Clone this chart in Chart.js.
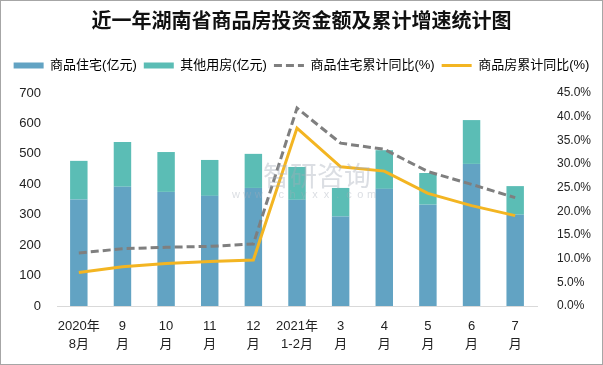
<!DOCTYPE html>
<html>
<head>
<meta charset="utf-8">
<script src="https://cdn.jsdelivr.net/npm/chart.js@4"></script>
<style>
  html, body { margin: 0; padding: 0; background: #fff; }
  #wrap { width: 603px; height: 365px; position: relative; }
</style>
</head>
<body>
<div id="wrap"><canvas id="grafico" width="603" height="365"></canvas></div>
<script>
// datos
const meses = [['2020年', '8月'], ['9', '月'], ['10', '月'], ['11', '月'], ['12', '月'],
  ['2021年', '1-2月'], ['3', '月'], ['4', '月'], ['5', '月'], ['6', '月'], ['7', '月']];
const comercialesVivienda = [350, 392, 375, 362, 388, 349, 294, 385, 333, 467, 300];
const otrosUsos = [127, 147, 131, 118, 112, 108, 94, 127, 104, 144, 94];
const acumViviendaPct = [11.2, 12.1, 12.4, 12.6, 13.1, 41.8, 34.4, 33.1, 28.4, 25.7, 22.9];
const acumTotalPct = [7.1, 8.3, 9.0, 9.4, 9.7, 37.6, 29.4, 28.5, 23.8, 21.2, 19.1];

const titulo = '近一年湖南省商品房投资金额及累计增速统计图';
const nombres = ['商品住宅(亿元)', '其他用房(亿元)', '商品住宅累计同比(%)', '商品房累计同比(%)'];

const AZUL = '#62a3c3';
const VERDE = '#5bbdb5';
const GRIS = '#7f7f7f';
const AMARILLO = '#f3b522';

Chart.defaults.font.family = "'Liberation Sans', 'Noto Sans CJK SC', sans-serif";
Chart.defaults.color = '#222';

// marca de agua y borde
const extras = {
  id: 'extras',
  afterDatasetsDraw(chart) {
    const ctx = chart.ctx;
    ctx.save();
    ctx.fillStyle = 'rgba(165,172,185,0.4)';
    ctx.font = "27px 'Noto Sans CJK SC'";
    ctx.textBaseline = 'middle';
    ctx.fillText('智研咨询', 263, 176);
    ctx.font = "11px 'Liberation Sans'";
    ctx.textAlign = 'center';
    const web = 'www.chyxx.com';
    for (let i = 0; i < web.length; i++) {
      ctx.fillText(web[i], 236 + i * 11.3, 195);
    }
    ctx.restore();
  },
  afterDraw(chart) {
    const ctx = chart.ctx;
    ctx.save();
    ctx.strokeStyle = '#a6a6a6';
    ctx.lineWidth = 1;
    ctx.strokeRect(0.5, 0.5, chart.width - 1, chart.height - 1);
    ctx.restore();
  }
};

new Chart(document.getElementById('grafico'), {
  type: 'bar',
  data: {
    labels: meses,
    datasets: [
      {
        type: 'line',
        label: nombres[2],
        data: acumViviendaPct,
        yAxisID: 'y1',
        borderColor: GRIS,
        borderWidth: 3,
        borderDash: [8, 4],
        pointRadius: 0,
        tension: 0,
        order: 0
      },
      {
        type: 'line',
        label: nombres[3],
        data: acumTotalPct,
        yAxisID: 'y1',
        borderColor: AMARILLO,
        borderWidth: 3,
        pointRadius: 0,
        tension: 0,
        order: 0
      },
      {
        label: nombres[0],
        data: comercialesVivienda,
        backgroundColor: AZUL,
        barPercentage: 0.4,
        categoryPercentage: 1,
        order: 1
      },
      {
        label: nombres[1],
        data: otrosUsos,
        backgroundColor: VERDE,
        barPercentage: 0.4,
        categoryPercentage: 1,
        order: 2
      }
    ]
  },
  options: {
    responsive: false,
    animation: false,
    events: [],
    layout: { padding: 0 },
    plugins: {
      tooltip: { enabled: false },
      title: {
        display: true,
        text: titulo,
        color: '#111',
        font: { family: "'Noto Sans CJK SC'", size: 20, weight: 'bold' },
        padding: { top: 8, bottom: 20 }
      },
      legend: {
        display: true,
        labels: {
          usePointStyle: true,
          pointStyleWidth: 30,
          boxHeight: 6,
          padding: 7,
          color: '#222',
          font: { size: 13 },
          generateLabels() {
            return [
              { text: nombres[0], fillStyle: AZUL, strokeStyle: AZUL, lineWidth: 0, pointStyle: 'rect', datasetIndex: 2 },
              { text: nombres[1], fillStyle: VERDE, strokeStyle: VERDE, lineWidth: 0, pointStyle: 'rect', datasetIndex: 3 },
              { text: nombres[2], fillStyle: GRIS, strokeStyle: GRIS, lineWidth: 3, lineDash: [8, 4], pointStyle: 'line', datasetIndex: 0 },
              { text: nombres[3], fillStyle: AMARILLO, strokeStyle: AMARILLO, lineWidth: 3, pointStyle: 'line', datasetIndex: 1 }
            ];
          }
        }
      }
    },
    scales: {
      x: {
        stacked: true,
        grid: { display: false },
        border: { color: '#d9d9d9' },
        ticks: { maxRotation: 0, autoSkip: false, font: { size: 13, lineHeight: 1.4 }, color: '#222' },
        afterFit(scale) { scale.height = 59; }
      },
      espacio: {
        type: 'linear',
        axis: 'x',
        position: 'top',
        display: true,
        ticks: { display: false },
        grid: { display: false },
        border: { display: false },
        afterFit(scale) { scale.height = 11; }
      },
      y: {
        stacked: true,
        position: 'left',
        min: 0,
        max: 700,
        ticks: { stepSize: 100, font: { size: 13 }, color: '#222', padding: 8 },
        grid: { display: false },
        border: { display: false },
        afterFit(scale) { scale.width = 57; }
      },
      y1: {
        position: 'right',
        min: 0,
        max: 45,
        ticks: {
          stepSize: 5,
          font: { size: 12 },
          color: '#222',
          padding: 12,
          callback: v => v.toFixed(1) + '%'
        },
        grid: { display: false },
        border: { display: false },
        afterFit(scale) { scale.width = 66; }
      }
    }
  },
  plugins: [extras]
});
</script>
</body>
</html>
